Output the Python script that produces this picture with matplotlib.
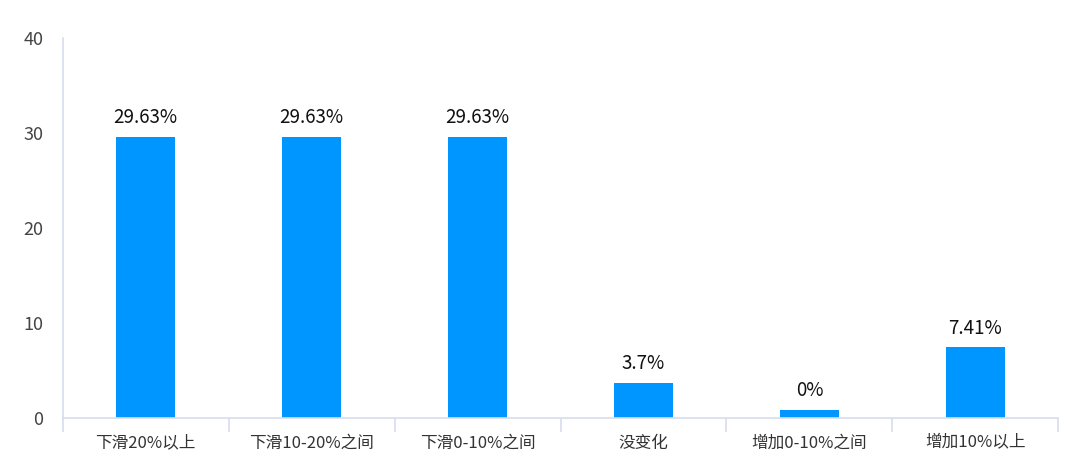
import numpy as np
import matplotlib.pyplot as plt
from matplotlib.ticker import FixedLocator

plt.rcParams['font.family'] = ['Noto Sans CJK SC', 'DejaVu Sans']

categories = ['下滑20%以上', '下滑10-20%之间', '下滑0-10%之间', '没变化', '增加0-10%之间', '增加10%以上']
values = [29.63, 29.63, 29.63, 3.7, 0, 7.41]
labels = ['29.63%', '29.63%', '29.63%', '3.7%', '0%', '7.41%']

bar_color = '#0096FF'
axis_color = '#D8DDEE'

fig = plt.figure(figsize=(10.8, 4.7), dpi=100)
ax = fig.add_axes([0.058, 0.111, 0.922, 0.808])

x = np.arange(len(categories))
# zero-valued bars still get a thin visible stub, like the original
heights = np.maximum(values, 0.85)
ax.bar(x, heights, width=0.36, color=bar_color, zorder=2)

for xi, h, lab in zip(x, heights, labels):
    ax.annotate(lab, (xi, h), xytext=(0, 6), textcoords='offset points',
                ha='center', va='bottom', fontsize=13.5, color='#111111')

ax.set_xlim(-0.5, len(categories) - 0.5)
ax.set_ylim(0, 40)
ax.set_yticks([0, 10, 20, 30, 40])
ax.tick_params(axis='y', length=0, pad=14, labelsize=13, labelcolor='#444444')

ax.set_xticks(x)
ax.set_xticklabels(categories)
ax.xaxis.set_minor_locator(FixedLocator(np.arange(len(categories) + 1) - 0.5))
ax.tick_params(axis='x', which='major', length=0, pad=12, labelsize=12, labelcolor='#333333')
ax.tick_params(axis='x', which='minor', length=10, width=1.2, color=axis_color)

for s in ['top', 'right']:
    ax.spines[s].set_visible(False)
ax.spines['left'].set_color(axis_color)
ax.spines['bottom'].set_color(axis_color)
ax.spines['left'].set_linewidth(1.2)
ax.spines['bottom'].set_linewidth(1.2)

fig.savefig('out.png', dpi=100)
